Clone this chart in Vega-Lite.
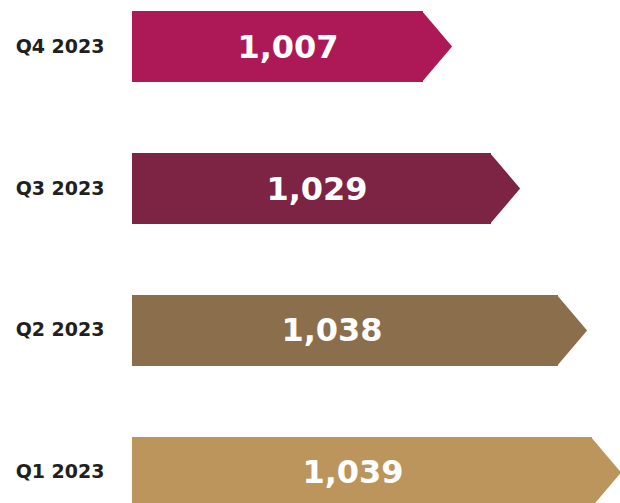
{
  "$schema": "https://vega.github.io/schema/vega-lite/v6.json",
  "width": 488,
  "height": 519,
  "autosize": "none",
  "padding": {"left": 132, "top": 0, "right": 0, "bottom": 0},
  "background": "white",
  "config": {"view": {"stroke": null}},
  "data": {
    "values": [
      {"quarter": "Q4 2023", "value": 1007},
      {"quarter": "Q3 2023", "value": 1029},
      {"quarter": "Q2 2023", "value": 1038},
      {"quarter": "Q1 2023", "value": 1039}
    ]
  },
  "encoding": {
    "y": {
      "field": "quarter",
      "type": "nominal",
      "sort": ["Q4 2023", "Q3 2023", "Q2 2023", "Q1 2023"],
      "scale": {"paddingInner": 0.5, "paddingOuter": 0.0775},
      "axis": {
        "title": null,
        "domain": false,
        "ticks": false,
        "labelPadding": 28,
        "labelFont": "DejaVu Sans",
        "labelFontWeight": "bold",
        "labelFontSize": 19,
        "labelColor": "#231f20"
      }
    },
    "color": {
      "field": "quarter",
      "type": "nominal",
      "scale": {
        "domain": ["Q4 2023", "Q3 2023", "Q2 2023", "Q1 2023"],
        "range": ["#ad1957", "#7d2343", "#8b6e4c", "#bc955c"]
      },
      "legend": null
    }
  },
  "layer": [
    {
      "layer": [
        {
          "mark": {"type": "bar", "opacity": 1},
          "encoding": {
            "x": {
              "field": "value",
              "type": "quantitative",
              "scale": {"domain": [1000, 1007, 1029, 1038, 1039], "range": [0, 291, 359, 426, 460], "zero": false, "nice": false},
              "axis": null
            },
            "x2": {"datum": 1000}
          }
        },
        {
          "mark": {"type": "point", "filled": true, "opacity": 1, "strokeWidth": 0, "shape": "M-0.03,-1L0.82,0L-0.03,1Z", "size": 5041},
          "encoding": {
            "x": {"field": "value", "type": "quantitative", "axis": null}
          }
        }
      ]
    },
    {
      "mark": {"type": "text", "color": "white", "font": "DejaVu Sans", "fontWeight": "bold", "fontSize": 32, "align": "center", "baseline": "middle", "dy": 1},
      "encoding": {
        "x": {
          "field": "value",
          "type": "quantitative",
          "scale": {"domain": [1007, 1029, 1038, 1039], "range": [156, 185, 200, 221], "zero": false, "nice": false},
          "axis": null
        },
        "text": {"field": "value", "type": "quantitative", "format": ",d"},
        "color": {"value": "white"}
      }
    }
  ],
  "resolve": {"scale": {"x": "independent"}}
}
